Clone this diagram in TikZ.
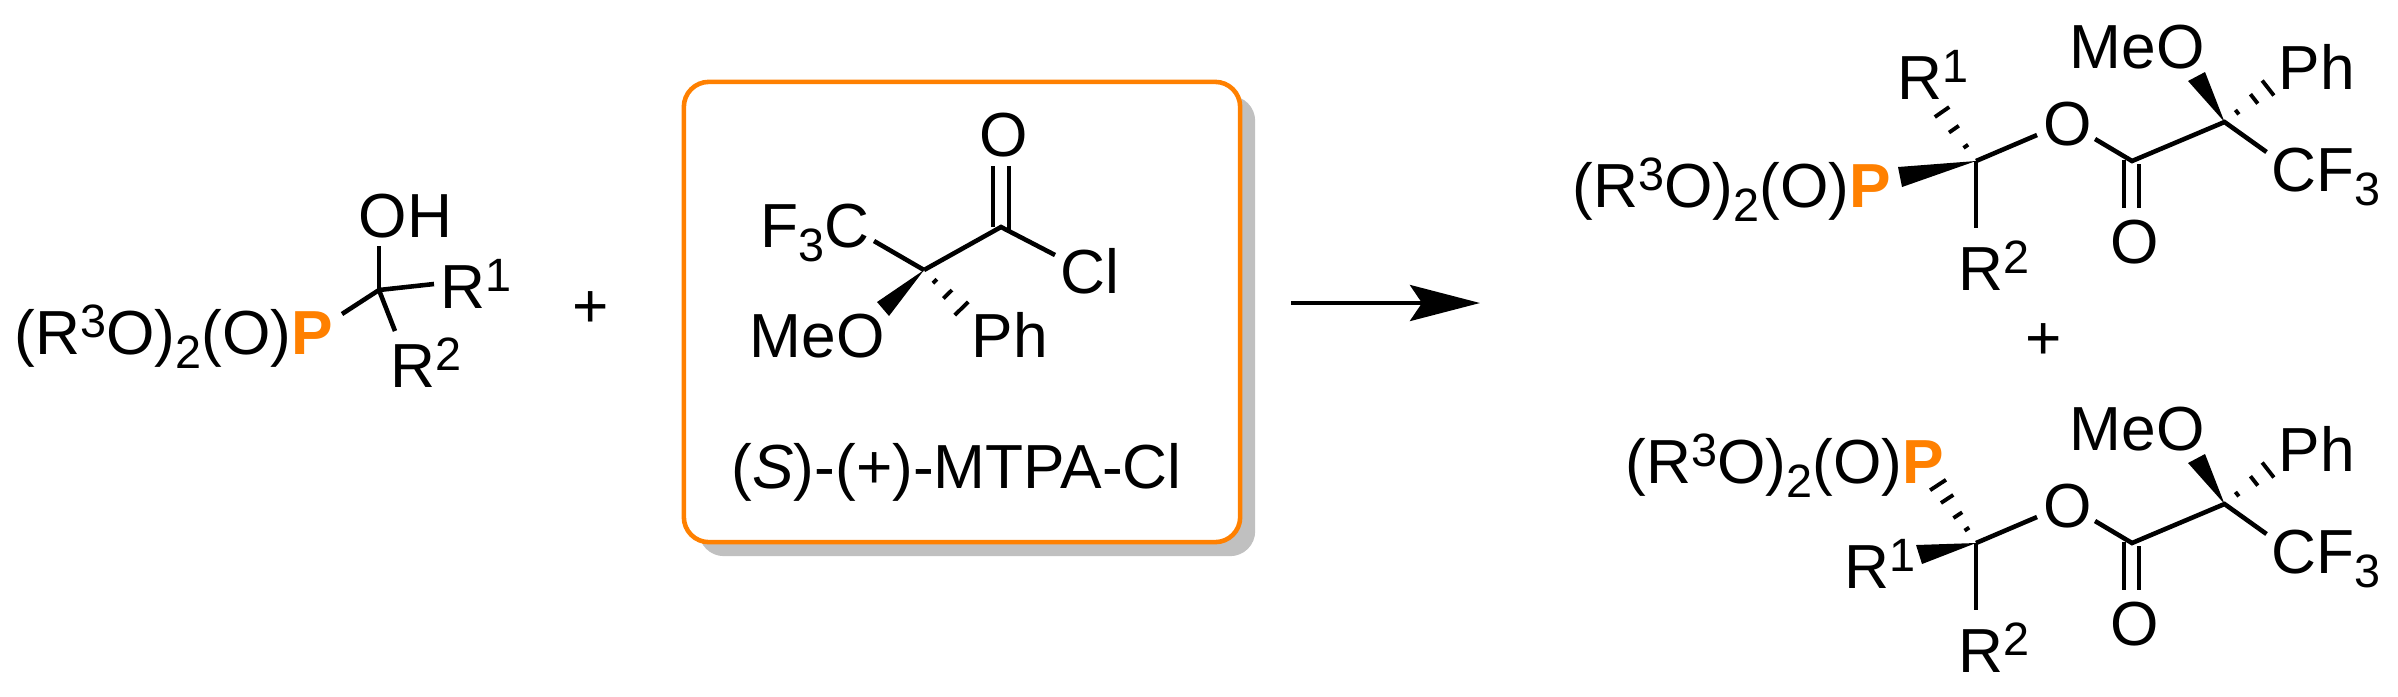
\documentclass[tikz,border=0pt]{standalone}
\usepackage{fontspec}
\setmainfont{Liberation Sans}
\usetikzlibrary{arrows.meta,calc,shadows}
\definecolor{porange}{HTML}{FF8000}
\definecolor{boxshadow}{HTML}{C0C0C0}
\newcommand{\chemup}[1]{\raisebox{4.8pt}{\fontsize{13.3}{15}\selectfont #1}}
\newcommand{\chemdn}[1]{\raisebox{-4pt}{\fontsize{13.3}{15}\selectfont #1}}
\newcommand{\ptxt}{(R\chemup{3}O)\chemdn{2}(O)\textcolor{porange}{\textbf{P}}}
% dashes of a hashed bond, given as position/half length
\newcommand{\hashbond}[3]{\foreach \t/\w in {#3}{
	\draw[hash] ($(#1)!\t!(#2)!\w!90:(#1)$) -- ($(#1)!\t!(#2)!\w!-90:(#1)$);}}
\tikzset{
	lbl/.style={anchor=base west,inner sep=0pt,font=\fontsize{17.7}{20}\selectfont},
	mid/.style={anchor=base,inner sep=0pt,font=\fontsize{17.7}{20}\selectfont},
	bond/.style={line width=1.3pt},
	hash/.style={line width=1.1pt},
	reagentbox/.style={draw=porange,fill=white,line width=1.3pt,rounded corners=0.25cm,
		minimum width=5.56cm,minimum height=4.6cm,inner sep=0pt,
		drop shadow={shadow xshift=0.15cm,shadow yshift=-0.14cm,fill=boxshadow,opacity=1}}
}
\begin{document}
\begin{tikzpicture}[x=0.01cm,y=-0.01cm]
		\useasboundingbox (0,0) rectangle (2398,696);

		% left alcohol
		\node[lbl] at (14,354) (p1) {\ptxt};
		\node[lbl] at (358,237) (oh) {OH};
		\node[lbl] at (440,308) (r1a) {R\chemup{1}};
		\node[lbl] at (390,387) (r2a) {R\chemup{2}};
		\node[mid] at (591,327) (plus1) {+};
		\coordinate (ca) at (379,290);
		\coordinate (caoh) at (379,246);
		\coordinate (cap) at (342,314);
		\coordinate (car1) at (434,284);
		\coordinate (car2) at (395,331);
		\draw[bond] (ca) -- (caoh);
		\draw[bond] (ca) -- (cap);
		\draw[bond] (ca) -- (car1);
		\draw[bond] (ca) -- (car2);

		% reagent in the box
		\node[reagentbox] at (962,312) (box) {};
		\node[mid] at (1004,156) (ob) {O};
		\node[lbl] at (1060,293) (cl) {Cl};
		\node[lbl] at (760,247) (cf3b) {F\chemdn{3}C};
		\node[lbl] at (749,357) (meob) {MeO};
		\node[lbl] at (971,357) (phb) {Ph};
		\node[lbl] at (731,488) (mtpa) {(\textit{S})-(+)-MTPA-Cl};
		\coordinate (cb) at (924,270);
		\coordinate (cob) at (1001,227);
		\coordinate (cobl) at (993,227);
		\coordinate (cobr) at (1009,231);
		\coordinate (obl) at (993,166);
		\coordinate (obr) at (1009,166);
		\coordinate (cbcl) at (1055,255);
		\coordinate (cbf) at (874,241);
		\coordinate (wbl) at (877,302);
		\coordinate (wbr) at (889,316);
		\coordinate (hb) at (961.5,308.5);
		\draw[bond] (cb) -- (cob) -- (cbcl);
		\draw[bond] (cb) -- (cbf);
		\draw[bond] (cobl) -- (obl);
		\draw[bond] (cobr) -- (obr);
		\fill (cb) -- (wbl) -- (wbr) -- cycle;
		\hashbond{cb}{hb}{0.29/0.8pt,0.63/1.7pt,1/2.7pt}

		% arrow
		\coordinate (ara) at (1291,303);
		\coordinate (arb) at (1480,303);
		\draw[line width=1.2pt,-{Stealth[length=0.7cm,width=0.36cm,inset=0.12cm]}] (ara) -- (arb);

		% upper product
		\node[lbl] at (1572,207) (p2) {\ptxt};
		\node[lbl] at (1897,99) (r1c) {R\chemup{1}};
		\node[lbl] at (1958,290) (r2c) {R\chemup{2}};
		\node[mid] at (2068,145) (oc) {O};
		\node[mid] at (2135,263) (ocd) {O};
		\node[lbl] at (2069,68) (meoc) {MeO};
		\node[lbl] at (2278,89) (phc) {Ph};
		\node[lbl] at (2271,191) (cf3c) {CF\chemdn{3}};
		\node[mid] at (2044,359) (plus2) {+};
		\coordinate (cc) at (1976,161);
		\coordinate (cco) at (2037,135);
		\coordinate (ccr2) at (1976,228);
		\coordinate (wca) at (1898,167);
		\coordinate (wcb) at (1902,187);
		\coordinate (hc) at (1942,112);
		\coordinate (oco) at (2095,139);
		\coordinate (cd) at (2132,161);
		\coordinate (cdl) at (2124,160);
		\coordinate (cdr) at (2139,164);
		\coordinate (odl) at (2124,208);
		\coordinate (odr) at (2139,208);
		\coordinate (ce) at (2224.5,122);
		\coordinate (cef) at (2266.5,152);
		\coordinate (wcc) at (2188,81);
		\coordinate (wcd) at (2205,72);
		\coordinate (he) at (2268,88);
		\draw[bond] (cc) -- (cco);
		\draw[bond] (cc) -- (ccr2);
		\draw[bond] (oco) -- (cd) -- (ce) -- (cef);
		\draw[bond] (cdl) -- (odl);
		\draw[bond] (cdr) -- (odr);
		\fill (cc) -- (wca) -- (wcb) -- cycle;
		\fill (ce) -- (wcc) -- (wcd) -- cycle;
		\hashbond{cc}{hc}{0.3/0.8pt,0.65/1.7pt,1/2.5pt}
		\hashbond{ce}{he}{0.29/0.8pt,0.68/1.7pt,1/2.7pt}

		% lower product
		\node[lbl] at (1625,483) (p3) {\ptxt};
		\node[lbl] at (1844,588) (r1f) {R\chemup{1}};
		\node[lbl] at (1958,672) (r2f) {R\chemup{2}};
		\node[mid] at (2068,527) (of) {O};
		\node[mid] at (2135,645) (ofd) {O};
		\node[lbl] at (2069,450) (meof) {MeO};
		\node[lbl] at (2278,471) (phf) {Ph};
		\node[lbl] at (2271,573) (cf3f) {CF\chemdn{3}};
		\coordinate (cf) at (1976,543);
		\coordinate (cfo) at (2037,517);
		\coordinate (cfr2) at (1976,610);
		\coordinate (wfa) at (1916,545);
		\coordinate (wfb) at (1922,564);
		\coordinate (hf) at (1938,485);
		\coordinate (ofo) at (2095,521);
		\coordinate (cg) at (2132,543);
		\coordinate (cgl) at (2124,542);
		\coordinate (cgr) at (2139,546);
		\coordinate (ogl) at (2124,590);
		\coordinate (ogr) at (2139,590);
		\coordinate (ch) at (2224.5,504);
		\coordinate (chf) at (2266.5,534);
		\coordinate (wfc) at (2188,463);
		\coordinate (wfd) at (2205,454);
		\coordinate (hh) at (2268,470);
		\draw[bond] (cf) -- (cfo);
		\draw[bond] (cf) -- (cfr2);
		\draw[bond] (ofo) -- (cg) -- (ch) -- (chf);
		\draw[bond] (cgl) -- (ogl);
		\draw[bond] (cgr) -- (ogr);
		\fill (cf) -- (wfa) -- (wfb) -- cycle;
		\fill (ch) -- (wfc) -- (wfd) -- cycle;
		\hashbond{cf}{hf}{0.24/0.8pt,0.48/1.5pt,0.76/2.1pt,1/2.7pt}
		\hashbond{ch}{hh}{0.29/0.8pt,0.68/1.7pt,1/2.7pt}
\end{tikzpicture}
\end{document}
